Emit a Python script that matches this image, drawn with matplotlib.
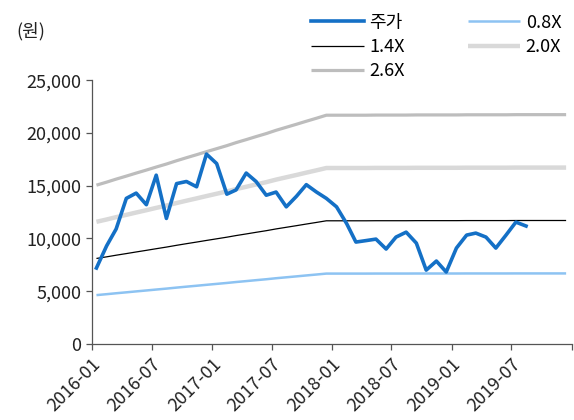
import numpy as np
import pandas as pd
import matplotlib
matplotlib.use("Agg")
import matplotlib.pyplot as plt

plt.rcParams['font.family'] = ['Noto Sans CJK KR', 'DejaVu Sans']

# 월별 주가 (2016-01 ~ 2019-08)
price = [7200, 9300, 10900, 13800, 14300, 13200, 16000, 11900, 15200, 15400,
         14900, 18000, 17100, 14200, 14600, 16200, 15400, 14100, 14400, 13000,
         14000, 15100, 14400, 13800, 13000, 11400, 9660, 9800, 9940, 9000,
         10130, 10600, 9560, 7000, 7860, 6820, 9090, 10320, 10510, 10130,
         9090, 10320, 11550, 11180]

# 월별 BPS (2016-01 ~ 2019-12)
bps = [5790, 5900, 6010, 6120, 6230, 6340, 6450, 6560, 6680, 6790,
       6900, 7010, 7120, 7230, 7340, 7450, 7560, 7670, 7790, 7900,
       8010, 8120, 8230, 8340, 8340, 8340, 8340, 8340, 8345, 8345,
       8345, 8345, 8350, 8350, 8350, 8350, 8350, 8355, 8355, 8355,
       8355, 8355, 8360, 8360, 8360, 8360, 8360, 8360]

multiples = [0.8, 1.4, 2.0, 2.6]
band_labels = ['0.8X', '1.4X', '2.0X', '2.6X']
tick_labels = ['2016-01', '2016-07', '2017-01', '2017-07', '2018-01',
               '2018-07', '2019-01', '2019-07', '']

months = pd.date_range('2016-01-01', periods=len(bps), freq='MS') + pd.Timedelta(days=14)
price_x = months[:len(price)]
bps = np.array(bps)

fig = plt.figure(figsize=(5.74, 4.2), dpi=100)
ax = fig.add_axes([0.160, 0.181, 0.836, 0.628])

styles = {
    '0.8X': dict(color='#8DC3F2', lw=1.8),
    '1.4X': dict(color='black', lw=0.9),
    '2.0X': dict(color='#D9D9D9', lw=3.2),
    '2.6X': dict(color='#BDBDBD', lw=2.3),
}

lines = {}
for m, lab in zip(multiples, band_labels):
    lines[lab], = ax.plot(months, bps * m, label=lab, solid_capstyle='butt', **styles[lab])
lines['주가'], = ax.plot(price_x, price, color='#1470C6', lw=2.6, label='주가')

ax.set_xlim(pd.Timestamp('2016-01-01'), pd.Timestamp('2020-01-01'))
ax.set_ylim(0, 25000)
ax.set_yticks(np.arange(0, 25001, 5000))
ax.yaxis.set_major_formatter(matplotlib.ticker.FuncFormatter(lambda v, p: f'{int(v):,}'))

xt = pd.date_range('2016-01-01', '2020-01-01', freq='6MS')
ax.set_xticks(xt)
ax.set_xticklabels(tick_labels, rotation=45, ha='right', rotation_mode='anchor')

for s in ['top', 'right']:
    ax.spines[s].set_visible(False)
for s in ['left', 'bottom']:
    ax.spines[s].set_color('#555555')
    ax.spines[s].set_linewidth(0.9)
ax.tick_params(axis='both', colors='#555555', labelcolor='#222222', labelsize=13,
               direction='out', length=4, width=0.9)
ax.tick_params(axis='x', pad=4)

order = ['주가', '1.4X', '2.6X', '0.8X', '2.0X']
fig.legend([lines[k] for k in order], order, ncol=2, frameon=False,
           loc='upper left', bbox_to_anchor=(0.53, 0.985), fontsize=13,
           handlelength=2.9, handletextpad=0.3, columnspacing=3.5,
           labelspacing=0.35, borderaxespad=0)

fig.text(0.028, 0.925, '(원)', fontsize=13, color='#222222', va='center')

fig.savefig('out.png', dpi=100)
